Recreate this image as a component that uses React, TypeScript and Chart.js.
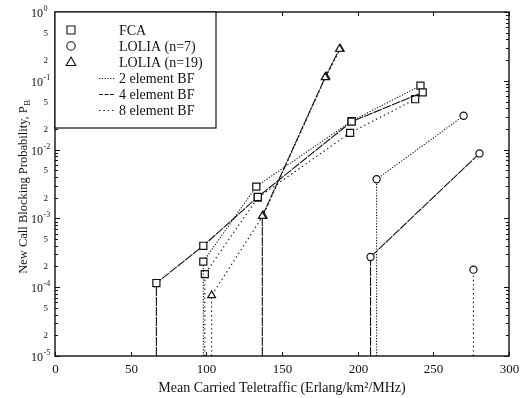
import React, { useEffect, useRef } from 'react';
import { Chart, registerables } from 'chart.js';

Chart.register(...registerables);

// ---- axes ----
const X_MIN = 0;
const X_MAX = 300;
const X_TICKS = [0, 50, 100, 150, 200, 250, 300];
const Y_MIN = 1e-5;
const Y_MAX = 1;
const Y_DECADES = [-5, -4, -3, -2, -1, 0];
const Y_MINOR_LABELS = [2, 5];
const X_TITLE = 'Mean Carried Teletraffic (Erlang/km\u00B2/MHz)';
const Y_TITLE = 'New Call Blocking Probability, P';
const Y_TITLE_SUB = 'B';

// ---- data: FCA (squares) ----
const FCA_4BF_X = [67, 98, 134, 196, 243];
const FCA_4BF_Y = [1.15e-4, 4.0e-4, 2.05e-3, 2.55e-2, 6.8e-2];
const FCA_2BF_X = [98, 133, 196, 241.5];
const FCA_2BF_Y = [2.35e-4, 2.9e-3, 2.6e-2, 8.5e-2];
const FCA_8BF_X = [99, 134, 195, 238];
const FCA_8BF_Y = [1.55e-4, 2.0e-3, 1.75e-2, 5.4e-2];

// ---- data: LOLIA n=7 (circles) ----
const L7_4BF_X = [208.5, 280.5];
const L7_4BF_Y = [2.75e-4, 8.8e-3];
const L7_2BF_X = [212.5, 270];
const L7_2BF_Y = [3.7e-3, 3.1e-2];
const L7_8BF_X = [276.5];
const L7_8BF_Y = [1.8e-4];

// ---- data: LOLIA n=19 (triangles) ----
const L19_4BF_X = [137, 178.5, 188];
const L19_4BF_Y = [1.08e-3, 0.112, 0.29];
const L19_8BF_X = [103.5, 137.5, 179, 188.5];
const L19_8BF_Y = [7.6e-5, 1.1e-3, 0.115, 0.29];

// ---- legend ----
const LEGEND_MARKERS = [
  { style: 'rect', label: 'FCA' },
  { style: 'circle', label: 'LOLIA (n=7)' },
  { style: 'triangle', label: 'LOLIA (n=19)' },
];
const DASH_2 = [1.2, 1.6];
const DASH_4 = [9, 1];
const DASH_8 = [1.4, 3];
const LEGEND_DASH_4 = [4, 1.5];
const LEGEND_LINES = [
  { dash: DASH_2, label: '2 element BF' },
  { dash: LEGEND_DASH_4, label: '4 element BF' },
  { dash: DASH_8, label: '8 element BF' },
];

const FONT = "'Liberation Serif', 'Times New Roman', serif";
const INK = '#111';

function radiusFor(style: string) {
  if (style === 'rect') return 5;
  if (style === 'triangle') return 4.5;
  return 3.6;
}

function makeSeries(label: string, xs: number[], ys: number[], style: string, dash: number[]) {
  const pts = xs.map((x, i) => ({ x, y: ys[i] }));
  // drop line from first point down to the axis floor
  const data = [{ x: xs[0], y: Y_MIN }, ...pts];
  const r = radiusFor(style);
  return {
    label,
    data,
    borderColor: INK,
    borderWidth: 1.1,
    borderDash: dash,
    pointStyle: style,
    pointRadius: data.map((_, i) => (i === 0 ? 0 : r)),
    pointBorderColor: INK,
    pointBackgroundColor: '#fff',
    pointBorderWidth: 1.2,
    tension: 0,
    fill: false,
  };
}

const framePlugin = {
  id: 'frameAndText',
  afterDraw(chart: any) {
    const { ctx, chartArea: a, scales } = chart;
    const xs = scales.x;
    const ys = scales.y;
    ctx.save();
    ctx.strokeStyle = INK;
    ctx.fillStyle = INK;
    ctx.setLineDash([]);

    // frame
    ctx.lineWidth = 1.4;
    ctx.strokeRect(a.left, a.top, a.right - a.left, a.bottom - a.top);

    // y ticks (inward) and labels
    ctx.lineWidth = 1;
    Y_DECADES.forEach((e) => {
      const maxM = e === 0 ? 1 : 9;
      for (let m = 1; m <= maxM; m++) {
        const v = m * Math.pow(10, e);
        const py = Math.round(ys.getPixelForValue(v)) + 0.5;
        const len = m === 1 ? 5 : 3;
        ctx.beginPath();
        ctx.moveTo(a.left, py);
        ctx.lineTo(a.left + len, py);
        ctx.moveTo(a.right, py);
        ctx.lineTo(a.right - len, py);
        ctx.stroke();
        if (m === 1) {
          ctx.font = `12px ${FONT}`;
          ctx.textAlign = 'right';
          ctx.textBaseline = 'middle';
          ctx.fillText('10', 43, py + 1);
          ctx.font = `8px ${FONT}`;
          ctx.textAlign = 'left';
          ctx.fillText(e === 0 ? '0' : '-' + String(-e), 43.5, py - 4);
        } else if (Y_MINOR_LABELS.includes(m)) {
          ctx.font = `9px ${FONT}`;
          ctx.textAlign = 'right';
          ctx.textBaseline = 'middle';
          ctx.fillText(String(m), 48, py);
        }
      }
    });

    // x ticks and labels
    ctx.font = `13px ${FONT}`;
    ctx.textAlign = 'center';
    ctx.textBaseline = 'middle';
    X_TICKS.forEach((v) => {
      const px = Math.round(xs.getPixelForValue(v)) + 0.5;
      ctx.beginPath();
      ctx.moveTo(px, a.bottom);
      ctx.lineTo(px, a.bottom - 4);
      ctx.moveTo(px, a.top);
      ctx.lineTo(px, a.top + 4);
      ctx.stroke();
      ctx.fillText(String(v), px, a.bottom + 14);
    });

    // x title
    ctx.font = `14px ${FONT}`;
    ctx.fillText(X_TITLE, (a.left + a.right) / 2, a.bottom + 32);

    // y title with subscript
    ctx.save();
    ctx.translate(24, 187);
    ctx.rotate(-Math.PI / 2);
    ctx.font = `12.5px ${FONT}`;
    const w1 = ctx.measureText(Y_TITLE).width;
    ctx.font = `9px ${FONT}`;
    const w2 = ctx.measureText(Y_TITLE_SUB).width;
    const start = -(w1 + w2) / 2;
    ctx.textAlign = 'left';
    ctx.textBaseline = 'middle';
    ctx.font = `12.5px ${FONT}`;
    ctx.fillText(Y_TITLE, start, 0);
    ctx.font = `9px ${FONT}`;
    ctx.fillText(Y_TITLE_SUB, start + w1 + 0.5, 3.5);
    ctx.restore();

    // legend box
    const lx = a.left;
    const ly = a.top;
    const lw = 161;
    const lh = 116;
    ctx.fillStyle = '#fff';
    ctx.fillRect(lx, ly, lw, lh);
    ctx.lineWidth = 1.2;
    ctx.strokeStyle = INK;
    ctx.strokeRect(lx, ly, lw, lh);
    ctx.fillStyle = INK;
    ctx.font = `14px ${FONT}`;
    ctx.textAlign = 'left';
    ctx.textBaseline = 'middle';
    const rowY = (i: number) => ly + 18 + i * 16;
    LEGEND_MARKERS.forEach((it, i) => {
      const cy = rowY(i);
      const cx = lx + 16;
      ctx.lineWidth = 1.1;
      ctx.beginPath();
      if (it.style === 'rect') {
        ctx.rect(cx - 4, cy - 4, 8, 8);
      } else if (it.style === 'circle') {
        ctx.arc(cx, cy, 4.2, 0, Math.PI * 2);
      } else {
        ctx.moveTo(cx, cy - 5);
        ctx.lineTo(cx + 4.8, cy + 3.5);
        ctx.lineTo(cx - 4.8, cy + 3.5);
        ctx.closePath();
      }
      ctx.stroke();
      ctx.fillText(it.label, lx + 64, cy + 1);
    });
    LEGEND_LINES.forEach((it, i) => {
      const cy = Math.round(rowY(i + 3)) + 0.5;
      ctx.lineWidth = 1;
      ctx.setLineDash(it.dash);
      ctx.beginPath();
      ctx.moveTo(lx + 44, cy);
      ctx.lineTo(lx + 60, cy);
      ctx.stroke();
      ctx.setLineDash([]);
      ctx.fillText(it.label, lx + 64, cy + 1);
    });

    ctx.restore();
  },
};

export default function App() {
  const ref = useRef<HTMLCanvasElement>(null);
  useEffect(() => {
    const datasets = [
      makeSeries('FCA 4 element BF', FCA_4BF_X, FCA_4BF_Y, 'rect', DASH_4),
      makeSeries('FCA 2 element BF', FCA_2BF_X, FCA_2BF_Y, 'rect', DASH_2),
      makeSeries('FCA 8 element BF', FCA_8BF_X, FCA_8BF_Y, 'rect', DASH_8),
      makeSeries('LOLIA n=7 4 element BF', L7_4BF_X, L7_4BF_Y, 'circle', DASH_4),
      makeSeries('LOLIA n=7 2 element BF', L7_2BF_X, L7_2BF_Y, 'circle', DASH_2),
      makeSeries('LOLIA n=7 8 element BF', L7_8BF_X, L7_8BF_Y, 'circle', DASH_8),
      makeSeries('LOLIA n=19 4 element BF', L19_4BF_X, L19_4BF_Y, 'triangle', DASH_4),
      makeSeries('LOLIA n=19 8 element BF', L19_8BF_X, L19_8BF_Y, 'triangle', DASH_8),
    ];
    const chart = new Chart(ref.current as HTMLCanvasElement, {
      type: 'line',
      data: { datasets } as any,
      options: {
        animation: false,
        responsive: false,
        devicePixelRatio: 1,
        layout: { padding: { top: 12, right: 11, left: 0, bottom: 0 } },
        plugins: { legend: { display: false }, tooltip: { enabled: false } },
        scales: {
          x: {
            type: 'linear',
            min: X_MIN,
            max: X_MAX,
            grid: { display: false, drawTicks: false },
            border: { display: false },
            ticks: { display: false },
            afterFit: (s: any) => {
              s.height = 42;
            },
          },
          y: {
            type: 'logarithmic',
            min: Y_MIN,
            max: Y_MAX,
            grid: { display: false, drawTicks: false },
            border: { display: false },
            ticks: { display: false },
            afterFit: (s: any) => {
              s.width = 55;
            },
          },
        },
      } as any,
      plugins: [framePlugin],
    });
    return () => chart.destroy();
  }, []);
  return (
    <div style={{ position: 'absolute', left: 0, top: 0, width: 520, height: 398, background: '#fff' }}>
      <canvas ref={ref} width={520} height={398} style={{ display: 'block', width: 520, height: 398 }} />
    </div>
  );
}
